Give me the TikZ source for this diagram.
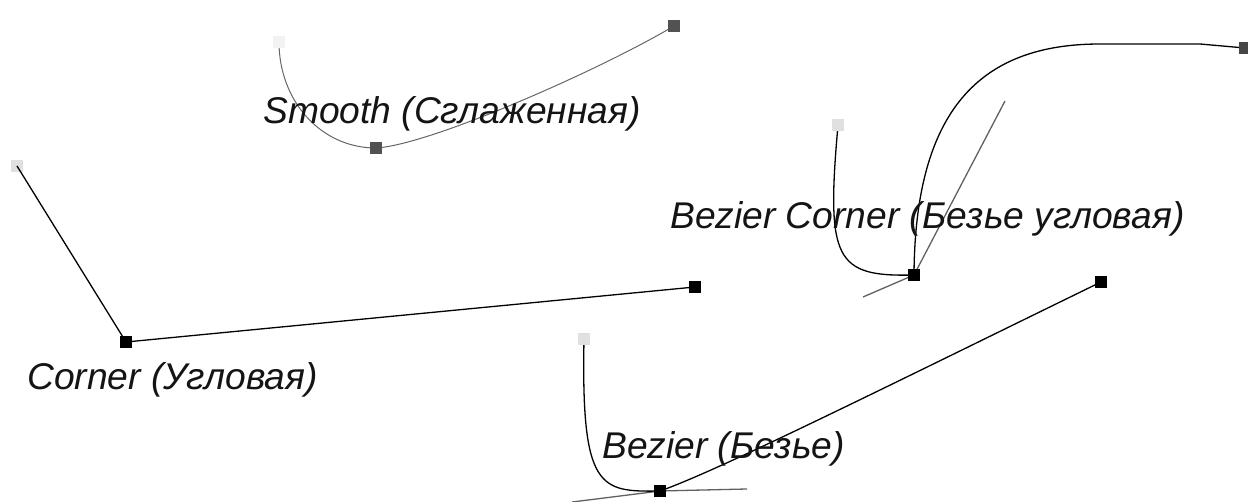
\documentclass[tikz,border=0pt]{standalone}
\usepackage{fontspec}
\setmainfont{Liberation Sans}
\begin{document}
\begin{tikzpicture}[x=1pt,y=-1pt,
  pt/.style={rectangle,inner sep=0pt,minimum size=12pt,draw=none},
  firstpt/.style={pt,fill=black!12},
  blackpt/.style={pt,fill=black},
  darkpt/.style={pt,fill=black!68},
  lbl/.style={inner sep=0pt,anchor=base west,font=\itshape\fontsize{37.2}{40}\selectfont,text=black!92},
  blk/.style={draw=black,line width=1.3pt},
  gry/.style={draw=black!60,line width=1pt},
  hnd/.style={draw=black!62,line width=1.3pt}]
\useasboundingbox (0,0) rectangle (1248,502);
% Smooth
\coordinate (s1) at (279,42);
\coordinate (s2) at (376,148);
\coordinate (s3) at (674,26);
\draw[gry] (s1) .. controls (279,100) and (320,148) .. (s2)
           .. controls (430,145) and (600,70) .. (s3);
\node[pt,fill=black!5] (S1) at (s1) {};
\node[darkpt] (S2) at (s2) {};
\node[darkpt] (S3) at (s3) {};
\node[lbl] (ls) at (263,124) {Smooth (Сглаженная)};
% Corner
\node[firstpt] (C1) at (17,166) {};
\node[blackpt] (C2) at (126,342) {};
\node[blackpt] (C3) at (695,287) {};
\draw[blk] (C1.center) -- (C2.center) -- (C3.center);
\node[lbl] (lc) at (27,390) {Corner (Угловая)};
% Bezier Corner
\coordinate (bc1) at (838,125);
\coordinate (bc2) at (914,275);
\coordinate (bc3) at (1245,48);
\coordinate (bch1) at (863,297);
\coordinate (bch2) at (1005,101);
\draw[hnd] (bch1) -- (bc2) -- (bch2);
\draw[blk] (bc1) .. controls (826,260) and (835,277) .. (bc2)
           .. controls (915,110) and (980,44) .. (1100,44) -- (1200,44) -- (bc3);
\node[firstpt] (BC1) at (bc1) {};
\node[blackpt] (BC2) at (bc2) {};
\node[pt,fill=black!72] (BC3) at (bc3) {};
\node[lbl] (lbc) at (670,229) {Bezier Corner (Безье угловая)};
% Bezier
\coordinate (b1) at (584,339);
\coordinate (b2) at (660,491);
\coordinate (b3) at (1101,282);
\coordinate (bh1) at (572,502);
\coordinate (bh2) at (747,489);
\draw[hnd] (bh1) -- (b2) -- (bh2);
\draw[blk] (b1) .. controls (581,490) and (600,492) .. (b2)
           .. controls (720,470) and (900,380) .. (b3);
\node[firstpt] (B1) at (b1) {};
\node[blackpt] (B2) at (b2) {};
\node[blackpt] (B3) at (b3) {};
\node[lbl] (lb) at (602,458) {Bezier (Безье)};
\end{tikzpicture}
\end{document}
